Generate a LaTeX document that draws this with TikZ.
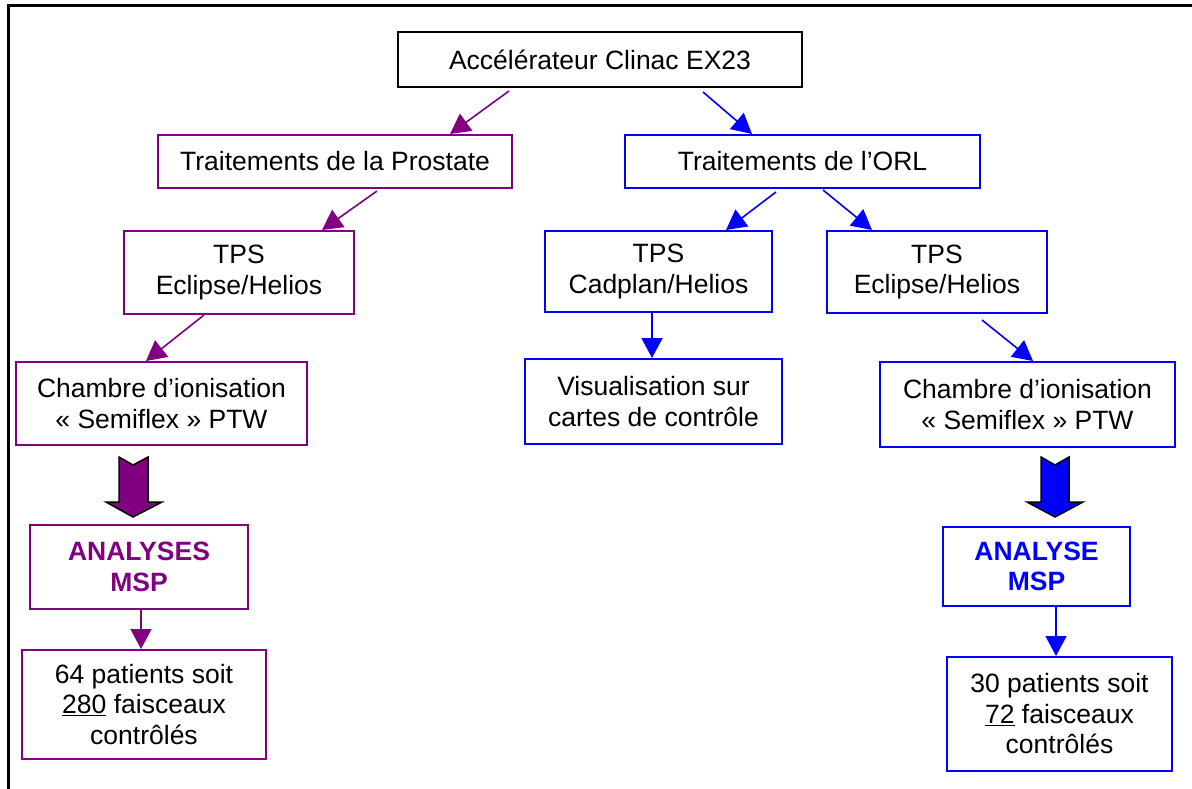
\documentclass[tikz,border=0pt]{standalone}
\usepackage{fontspec}
\setmainfont{Liberation Sans}
\usetikzlibrary{arrows.meta}
\definecolor{prostate}{HTML}{800080}
\definecolor{orl}{HTML}{0000FF}
\newcommand{\boxfont}{\fontsize{26.6pt}{30.6pt}\selectfont}
\begin{document}
\begin{tikzpicture}[x=1bp,y=-1bp,
  box/.style={draw, line width=2bp, rectangle, inner sep=0pt, align=center,
    font=\boxfont, text=black},
  pbox/.style={box, draw=prostate},
  bbox/.style={box, draw=orl},
  link/.style={line width=1.6bp, -{Triangle[length=20bp,width=21bp]}},
  plink/.style={link, color=prostate},
  blink/.style={link, color=orl},
  bigarrow/.style={draw=black, line width=1.5bp, line join=miter},
  headline/.style={font=\boxfont\bfseries}
]
\useasboundingbox (0,0) rectangle (1192,789);
% frame
\draw[line width=3bp] (8,789) -- (8,6) -- (1192,6);

% boxes
\node[box, minimum width=404bp, minimum height=55bp] (acc) at (600,59.5) {Accélérateur Clinac EX23};
\node[pbox, minimum width=354bp, minimum height=53bp] (pro) at (335,161.5) {Traitements de la Prostate};
\node[bbox, minimum width=355bp, minimum height=53bp] (orl) at (802.5,161.5) {Traitements de l’ORL};

\node[pbox, minimum width=229bp, minimum height=83bp] (eclL) at (239,272.5) {TPS\\Eclipse/Helios};
\node[bbox, minimum width=227bp, minimum height=81bp] (cad) at (658.5,271.5) {TPS\\Cadplan/Helios};
\node[bbox, minimum width=220bp, minimum height=82bp] (eclR) at (937,272) {TPS\\Eclipse/Helios};

\node[pbox, minimum width=291bp, minimum height=83bp] (chaL) at (161.5,403.5) {Chambre d’ionisation\\« Semiflex » PTW};
\node[bbox, minimum width=257bp, minimum height=85bp] (vis) at (653.5,401.5) {Visualisation sur\\cartes de contrôle};
\node[bbox, minimum width=295bp, minimum height=85bp] (chaR) at (1027.5,404.5) {Chambre d’ionisation\\« Semiflex » PTW};

\node[pbox, minimum width=218bp, minimum height=84bp, text=prostate, headline] (anaL) at (139,567) {ANALYSES\\MSP};
\node[bbox, minimum width=187bp, minimum height=79bp, text=orl, headline] (anaR) at (1036.5,566.5) {ANALYSE\\MSP};

\node[pbox, minimum width=244bp, minimum height=109bp] (patL) at (144,704.5) {64 patients soit\\\underline{280} faisceaux\\contrôlés};
\node[bbox, minimum width=225bp, minimum height=114bp] (patR) at (1059.5,714) {30 patients soit\\\underline{72} faisceaux\\contrôlés};

% connectors
\draw[plink] ([xshift=-91bp,yshift=-3bp]acc.south) -- ([xshift=115bp]pro.north);
\draw[blink] ([xshift=103bp,yshift=-4bp]acc.south) -- ([xshift=-50.5bp]orl.north);
\draw[blink] ([xshift=-26.5bp,yshift=-3bp]orl.south) -- ([xshift=67.5bp]cad.north);
\draw[blink] ([xshift=20.5bp,yshift=-1bp]orl.south) -- ([xshift=-65bp]eclR.north);
\draw[blink] ([xshift=45bp,yshift=-6bp]eclR.south) -- ([xshift=5.5bp]chaR.north);
\draw[plink] ([xshift=42bp,yshift=-2bp]pro.south) -- ([xshift=83bp]eclL.north);
\draw[plink] ([xshift=-35bp]eclL.south) -- ([xshift=-15.5bp]chaL.north);
\draw[blink] ([xshift=-6.5bp]cad.south) -- ([xshift=-1.5bp]vis.north);
\draw[plink] ([xshift=2bp]anaL.south) -- ([xshift=-3bp]patL.north);
\draw[blink] ([xshift=19.5bp]anaR.south) -- ([xshift=-3.5bp]patR.north);

% block arrows
\draw[bigarrow, fill=prostate] (119,457) -- (133,465) -- (148,457) -- (148,502) -- (162,502)
  -- (133,517) -- (106,502) -- (119,502) -- cycle;
\draw[bigarrow, fill=orl] (1041,457) -- (1055,465) -- (1069,457) -- (1069,502) -- (1083,502)
  -- (1055,517) -- (1027,502) -- (1041,502) -- cycle;
\end{tikzpicture}
\end{document}
